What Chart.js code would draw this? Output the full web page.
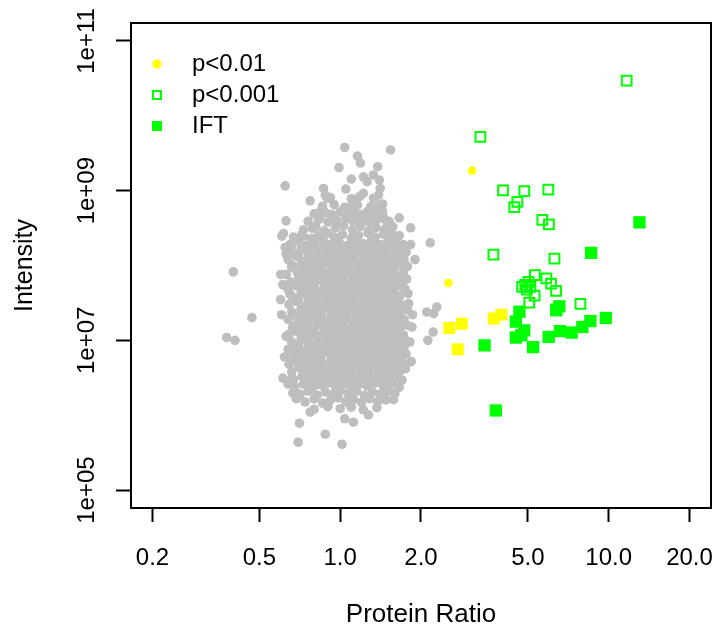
<!DOCTYPE html>
<html><head><meta charset="utf-8">
<script src="https://cdn.jsdelivr.net/npm/chart.js@4.4.1/dist/chart.umd.min.js"></script>
<style>html,body{margin:0;padding:0;background:#fff;}#wrap{width:716px;height:630px;}</style>
</head><body><div id="wrap"><canvas id="c" width="716" height="630"></canvas></div>
<script>
const xTickValues = [0.2, 0.5, 1, 2, 5, 10, 20];
const xTickLabels = ["0.2", "0.5", "1.0", "2.0", "5.0", "10.0", "20.0"];
const yTickValues = [1e5, 1e7, 1e9, 1e11];
const yTickLabels = ["1e+05", "1e+07", "1e+09", "1e+11"];
const legendLabels = ["p<0.01", "p<0.001", "IFT"];
const xTitle = "Protein Ratio";
const yTitle = "Intensity";

// [protein ratio, intensity]
const grayPoints = [
[1.04,3.78e9],[1.54,3.5e9],[1.16,2.9e9],[1.19,2.34e9],[0.99,2.03e9],[1.38,2.09e9],[0.624,1.16e9],[1.10,1.43e9],
[1.22,1.53e9],[1.26,1.32e9],[1.33,1.62e9],[1.40,1.39e9],[1.41,1.07e9],[1.39,8.73e8],[0.867,1.07e9],[0.88,8.73e8],
[0.897,7.89e8],[1.05,1.05e9],[1.22,9.2e8],[0.773,7.32e8],[0.847,5.38e8],[1.44,6.62e8],[1.43,5.5e8],[1.09,6.09e8],
[1.12,6.41e8],[1.06,5.22e8],[1.19,4.71e8],[1.26,5.22e8],[1.35,5.22e8],[0.629,3.95e8],[1.66,4.34e8],[1.83,3.19e8],
[2.165,2.01e8],[1.50,3.46e8],[0.615,2.68e8],[0.606,2.47e8],[0.788,3.13e8],[0.730,2.47e8],[0.661,1.91e8],[0.624,1.74e8],
[0.629,1.42e8],[0.661,1.01e8],[0.601,7.58e7],[0.612,5.57e7],[1.60,2.41e8],[1.56,2.68e8],[1.60,1.45e8],[1.63,1.18e8],
[1.70,6.36e7],[0.40,8.21e7],[0.469,2.01e7],[0.378,1.09e7],[0.406,1.0e7],[0.629,1.13e7],[0.67,7.35e6],[0.612,3.13e6],
[0.661,3.13e6],[0.666,1.97e6],[0.686,1.66e6],[0.773,1.1e6],[0.705,7.81e5],[0.697,4.35e5],[0.88,5.57e5],[1.016,4.09e5],
[1.04,8.95e5],[1.12,8.06e5],[1.275,1.01e6],[1.37,1.26e6],[1.58,1.61e6],[1.82,9.5e6],[1.80,3.1e7],[1.75,4.18e6],
[1.72,6.3e6],[2.10,2.39e7],[2.29,2.79e7],[2.23,2.28e7],[2.22,1.29e7],[2.12,1.0e7],[1.70,5.74e7],[0.68,1.59e7],
[0.651,4.13e7],[0.615,5.45e7],[0.84,4.4e8],[0.95,4.1e8],[1.31,4.5e8],[1.46,4.2e8],
[1.86,2.2e7],[1.84,5.2e6],[1.85,1.5e7],[1.83,1.9e8],[0.60,3.5e7],[0.605,2.2e7],[0.62,6.0e6],[0.64,2.6e6],[1.90,1.2e8],
[0.92,8.1e8],[1.10,7.8e8],[1.18,8.3e8],[1.33,7.9e8],
[0.86,6.2e8],[0.95,6.5e8],[1.04,6.0e8],[1.16,6.4e8],[1.30,6.1e8],[1.40,6.4e8],
[0.80,4.9e8],[0.88,5.1e8],[0.93,4.8e8],[1.00,5.2e8],[1.07,4.9e8],[1.13,5.1e8],[1.22,4.8e8],[1.30,5.2e8],[1.37,4.9e8],[1.44,5.1e8],
[0.76,3.9e8],[0.83,4.1e8],[0.90,3.8e8],[0.97,4.0e8],[1.05,4.2e8],[1.12,3.9e8],[1.20,4.1e8],[1.28,3.8e8],[1.36,4.0e8],[1.52,3.9e8],
[0.73,3.0e8],[0.81,3.3e8],[0.87,2.9e8],[0.96,3.2e8],[1.03,3.4e8],[1.11,3.0e8],[1.19,3.3e8],[1.28,2.9e8],[1.36,3.2e8],[1.46,3.0e8],[1.57,3.3e8],
[0.67,2.4e8],[0.72,2.6e8],[0.78,2.3e8],[0.83,2.5e8],[0.90,2.7e8],[0.95,2.4e8],[1.02,2.6e8],[1.10,2.3e8],[1.17,2.5e8],[1.27,2.7e8],[1.35,2.4e8],[1.45,2.6e8],[1.54,2.3e8],[1.66,2.5e8],
[0.65,1.9e8],[0.70,2.1e8],[0.745,1.85e8],[0.80,2.0e8],[0.865,2.15e8],[0.92,1.9e8],[0.99,2.05e8],[1.065,1.85e8],[1.14,2.1e8],[1.22,1.95e8],[1.31,2.15e8],[1.41,1.9e8],[1.50,2.0e8],[1.61,2.1e8],[1.72,1.9e8],
[0.665,1.5e8],[0.715,1.65e8],[0.77,1.45e8],[0.83,1.6e8],[0.895,1.7e8],[0.955,1.5e8],[1.025,1.62e8],[1.10,1.48e8],[1.18,1.66e8],[1.26,1.52e8],[1.355,1.68e8],[1.45,1.55e8],[1.56,1.45e8],[1.67,1.62e8],[1.76,1.5e8],
[0.64,1.2e8],[0.69,1.32e8],[0.745,1.16e8],[0.80,1.28e8],[0.86,1.2e8],[0.925,1.34e8],[0.99,1.22e8],[1.06,1.3e8],[1.14,1.16e8],[1.225,1.28e8],[1.31,1.2e8],[1.40,1.34e8],[1.50,1.22e8],[1.61,1.3e8],[1.73,1.18e8],
[0.66,0.95e8],[0.715,1.05e8],[0.77,0.92e8],[0.83,1.02e8],[0.89,1.07e8],[0.955,0.94e8],[1.025,1.0e8],[1.10,1.06e8],[1.18,0.93e8],[1.26,1.03e8],[1.355,0.96e8],[1.45,1.06e8],[1.555,0.94e8],[1.67,1.02e8],[1.78,0.97e8],
[0.63,7.6e7],[0.69,8.3e7],[0.74,7.3e7],[0.80,8.0e7],[0.86,7.5e7],[0.92,8.4e7],[0.99,7.7e7],[1.06,8.1e7],[1.14,7.4e7],[1.22,8.3e7],[1.31,7.6e7],[1.40,8.5e7],[1.50,7.8e7],[1.61,7.4e7],[1.72,8.1e7],
[0.655,6.0e7],[0.715,6.6e7],[0.77,5.9e7],[0.83,6.4e7],[0.89,6.8e7],[0.955,6.0e7],[1.025,6.5e7],[1.10,5.8e7],[1.18,6.6e7],[1.26,6.1e7],[1.355,6.7e7],[1.45,6.0e7],[1.555,6.5e7],[1.67,6.1e7],[1.77,6.6e7],
[0.64,4.8e7],[0.69,5.3e7],[0.745,4.6e7],[0.80,5.1e7],[0.86,4.7e7],[0.925,5.3e7],[0.99,4.9e7],[1.06,5.2e7],[1.14,4.7e7],[1.22,5.3e7],[1.31,4.8e7],[1.40,5.2e7],[1.50,4.7e7],[1.61,5.1e7],[1.74,4.9e7],
[0.665,3.8e7],[0.715,4.2e7],[0.77,3.7e7],[0.83,4.1e7],[0.89,4.3e7],[0.955,3.8e7],[1.025,4.1e7],[1.10,3.7e7],[1.18,4.2e7],[1.26,3.9e7],[1.355,4.3e7],[1.45,3.8e7],[1.555,4.1e7],[1.67,3.9e7],[1.79,4.2e7],
[0.645,3.0e7],[0.69,3.3e7],[0.745,2.9e7],[0.80,3.2e7],[0.86,3.0e7],[0.925,3.4e7],[0.99,3.1e7],[1.06,3.3e7],[1.14,2.9e7],[1.22,3.2e7],[1.31,3.0e7],[1.40,3.4e7],[1.50,3.0e7],[1.61,3.3e7],[1.72,2.95e7],
[0.66,2.4e7],[0.715,2.6e7],[0.77,2.3e7],[0.83,2.55e7],[0.89,2.7e7],[0.955,2.4e7],[1.025,2.6e7],[1.10,2.35e7],[1.18,2.6e7],[1.26,2.45e7],[1.355,2.7e7],[1.45,2.4e7],[1.555,2.6e7],[1.67,2.35e7],[1.78,2.55e7],
[0.64,1.9e7],[0.69,2.1e7],[0.745,1.85e7],[0.80,2.05e7],[0.86,1.9e7],[0.925,2.15e7],[0.99,1.95e7],[1.06,2.1e7],[1.14,1.85e7],[1.22,2.05e7],[1.31,1.9e7],[1.40,2.15e7],[1.50,1.95e7],[1.61,2.1e7],[1.73,1.9e7],
[0.665,1.5e7],[0.715,1.65e7],[0.77,1.45e7],[0.83,1.6e7],[0.89,1.7e7],[0.955,1.5e7],[1.025,1.65e7],[1.10,1.45e7],[1.18,1.62e7],[1.26,1.52e7],[1.355,1.7e7],[1.45,1.5e7],[1.555,1.64e7],[1.67,1.48e7],[1.77,1.6e7],
[0.645,1.2e7],[0.69,1.32e7],[0.745,1.16e7],[0.80,1.28e7],[0.86,1.2e7],[0.925,1.34e7],[0.99,1.22e7],[1.06,1.3e7],[1.14,1.16e7],[1.22,1.28e7],[1.31,1.2e7],[1.40,1.34e7],[1.50,1.22e7],[1.61,1.3e7],[1.72,1.18e7],
[0.66,0.95e7],[0.715,1.05e7],[0.77,0.92e7],[0.83,1.02e7],[0.89,1.07e7],[0.955,0.94e7],[1.025,1.0e7],[1.10,1.06e7],[1.18,0.93e7],[1.26,1.03e7],[1.355,0.96e7],[1.45,1.06e7],[1.555,0.94e7],[1.67,1.02e7],[1.78,0.97e7],
[0.64,7.6e6],[0.69,8.3e6],[0.745,7.3e6],[0.80,8.0e6],[0.86,7.5e6],[0.92,8.4e6],[0.99,7.7e6],[1.06,8.1e6],[1.14,7.4e6],[1.22,8.3e6],[1.31,7.6e6],[1.40,8.5e6],[1.50,7.8e6],[1.61,7.4e6],[1.73,8.1e6],
[0.665,6.0e6],[0.715,6.6e6],[0.77,5.9e6],[0.83,6.4e6],[0.89,6.8e6],[0.955,6.0e6],[1.025,6.5e6],[1.10,5.8e6],[1.18,6.6e6],[1.26,6.1e6],[1.355,6.7e6],[1.45,6.0e6],[1.555,6.5e6],[1.67,6.1e6],[1.76,6.6e6],
[0.645,4.8e6],[0.69,5.3e6],[0.745,4.6e6],[0.80,5.1e6],[0.86,4.7e6],[0.925,5.3e6],[0.99,4.9e6],[1.06,5.2e6],[1.14,4.7e6],[1.22,5.3e6],[1.31,4.8e6],[1.40,5.2e6],[1.50,4.7e6],[1.61,5.1e6],[1.72,4.9e6],
[0.66,3.8e6],[0.715,4.2e6],[0.77,3.7e6],[0.83,4.1e6],[0.89,4.3e6],[0.955,3.8e6],[1.025,4.1e6],[1.10,3.7e6],[1.18,4.2e6],[1.26,3.9e6],[1.355,4.3e6],[1.45,3.8e6],[1.555,4.1e6],[1.67,3.9e6],[1.75,4.2e6],
[0.67,3.0e6],[0.72,3.3e6],[0.77,2.9e6],[0.82,3.2e6],[0.87,3.0e6],[0.93,3.4e6],[0.99,3.1e6],[1.06,3.3e6],[1.14,2.9e6],[1.22,3.2e6],[1.31,3.0e6],[1.40,3.4e6],[1.50,3.0e6],[1.61,3.3e6],[1.70,2.95e6],
[0.68,2.4e6],[0.73,2.6e6],[0.79,2.3e6],[0.845,2.55e6],[0.90,2.7e6],[0.96,2.4e6],[1.03,2.6e6],[1.10,2.35e6],[1.18,2.6e6],[1.26,2.45e6],[1.355,2.7e6],[1.45,2.4e6],[1.555,2.6e6],[1.66,2.35e6],
[0.71,1.9e6],[0.76,2.1e6],[0.82,1.85e6],[0.88,2.05e6],[0.94,1.9e6],[1.0,2.15e6],[1.07,1.95e6],[1.15,2.1e6],[1.23,1.85e6],[1.32,2.05e6],[1.41,1.9e6],[1.51,2.1e6],[1.60,1.95e6],
[0.74,1.5e6],[0.80,1.65e6],[0.86,1.45e6],[0.92,1.6e6],[0.985,1.7e6],[1.05,1.5e6],[1.12,1.62e6],[1.20,1.48e6],[1.29,1.66e6],[1.38,1.52e6],[1.48,1.6e6],
[0.80,1.2e6],[0.90,1.3e6],[1.0,1.22e6],[1.10,1.28e6],[1.22,1.18e6],
[0.72,1.75e8],[0.78,1.85e8],[0.85,1.7e8],[0.93,1.8e8],[1.0,1.9e8],[1.08,1.72e8],[1.16,1.84e8],[1.25,1.76e8],[1.35,1.88e8],[1.46,1.7e8],[1.58,1.8e8],
[0.70,1.38e8],[0.76,1.46e8],[0.82,1.36e8],[0.89,1.44e8],[0.96,1.4e8],[1.04,1.48e8],[1.12,1.36e8],[1.21,1.44e8],[1.30,1.38e8],[1.41,1.46e8],[1.52,1.36e8],[1.64,1.43e8],
[0.74,1.1e8],[0.80,1.16e8],[0.875,1.08e8],[0.945,1.14e8],[1.02,1.1e8],[1.10,1.17e8],[1.19,1.08e8],[1.28,1.15e8],[1.39,1.1e8],[1.50,1.16e8],[1.62,1.09e8],
[0.72,8.7e7],[0.78,9.2e7],[0.85,8.6e7],[0.93,9.1e7],[1.0,8.8e7],[1.08,9.3e7],[1.16,8.6e7],[1.25,9.1e7],[1.35,8.7e7],[1.46,9.2e7],[1.58,8.6e7],
[0.70,7.0e7],[0.76,7.3e7],[0.82,6.9e7],[0.89,7.2e7],[0.96,7.0e7],[1.04,7.4e7],[1.12,6.9e7],[1.21,7.2e7],[1.30,7.0e7],[1.41,7.3e7],[1.52,6.9e7],[1.64,7.2e7],
[0.74,5.5e7],[0.80,5.8e7],[0.875,5.4e7],[0.945,5.7e7],[1.02,5.5e7],[1.10,5.8e7],[1.19,5.4e7],[1.28,5.7e7],[1.39,5.5e7],[1.50,5.8e7],[1.62,5.4e7],
[0.72,4.4e7],[0.78,4.6e7],[0.85,4.3e7],[0.93,4.6e7],[1.0,4.4e7],[1.08,4.7e7],[1.16,4.3e7],[1.25,4.6e7],[1.35,4.4e7],[1.46,4.6e7],[1.58,4.3e7],
[0.70,3.5e7],[0.76,3.65e7],[0.82,3.45e7],[0.89,3.6e7],[0.96,3.5e7],[1.04,3.7e7],[1.12,3.45e7],[1.21,3.6e7],[1.30,3.5e7],[1.41,3.65e7],[1.52,3.45e7],[1.64,3.6e7],
[0.74,2.75e7],[0.80,2.9e7],[0.875,2.7e7],[0.945,2.85e7],[1.02,2.75e7],[1.10,2.9e7],[1.19,2.7e7],[1.28,2.85e7],[1.39,2.75e7],[1.50,2.9e7],[1.62,2.7e7],
[0.72,2.2e7],[0.78,2.3e7],[0.85,2.15e7],[0.93,2.3e7],[1.0,2.2e7],[1.08,2.32e7],[1.16,2.15e7],[1.25,2.28e7],[1.35,2.2e7],[1.46,2.3e7],[1.58,2.16e7],
[0.70,1.75e7],[0.76,1.83e7],[0.82,1.72e7],[0.89,1.8e7],[0.96,1.75e7],[1.04,1.85e7],[1.12,1.72e7],[1.21,1.8e7],[1.30,1.75e7],[1.41,1.83e7],[1.52,1.72e7],[1.64,1.8e7],
[0.74,1.38e7],[0.80,1.46e7],[0.875,1.36e7],[0.945,1.44e7],[1.02,1.4e7],[1.10,1.47e7],[1.19,1.36e7],[1.28,1.44e7],[1.39,1.38e7],[1.50,1.46e7],[1.62,1.37e7],
[0.72,1.1e7],[0.78,1.16e7],[0.85,1.08e7],[0.93,1.15e7],[1.0,1.1e7],[1.08,1.17e7],[1.16,1.08e7],[1.25,1.15e7],[1.35,1.1e7],[1.46,1.16e7],[1.58,1.08e7],
[0.70,8.7e6],[0.76,9.2e6],[0.82,8.6e6],[0.89,9.1e6],[0.96,8.8e6],[1.04,9.3e6],[1.12,8.6e6],[1.21,9.1e6],[1.30,8.7e6],[1.41,9.2e6],[1.52,8.6e6],[1.64,9.0e6],
[0.74,7.0e6],[0.80,7.3e6],[0.875,6.9e6],[0.945,7.2e6],[1.02,7.0e6],[1.10,7.4e6],[1.19,6.9e6],[1.28,7.2e6],[1.39,7.0e6],[1.50,7.3e6],[1.62,6.9e6],
[0.72,5.5e6],[0.78,5.8e6],[0.85,5.4e6],[0.93,5.7e6],[1.0,5.5e6],[1.08,5.8e6],[1.16,5.4e6],[1.25,5.7e6],[1.35,5.5e6],[1.46,5.8e6],[1.58,5.4e6],
[0.70,4.4e6],[0.76,4.6e6],[0.82,4.3e6],[0.89,4.6e6],[0.96,4.4e6],[1.04,4.7e6],[1.12,4.3e6],[1.21,4.6e6],[1.30,4.4e6],[1.41,4.6e6],[1.52,4.3e6],[1.64,4.5e6],
[0.74,3.5e6],[0.80,3.65e6],[0.875,3.45e6],[0.945,3.6e6],[1.02,3.5e6],[1.10,3.7e6],[1.19,3.45e6],[1.28,3.6e6],[1.39,3.5e6],[1.50,3.65e6],[1.62,3.45e6],
[0.75,2.75e6],[0.81,2.9e6],[0.87,2.7e6],[0.93,2.85e6],[1.0,2.75e6],[1.08,2.9e6],[1.16,2.7e6],[1.25,2.85e6],[1.35,2.75e6],[1.46,2.9e6],[1.57,2.7e6]
];
const yellowCirclePoints = [[3.10,1.85e9],[2.53,5.85e7]];
const yellowSquarePoints = [[2.55,1.46e7],[2.84,1.67e7],[2.74,7.58e6],[3.73,1.96e7],[3.98,2.21e7]];
const hollowSquarePoints = [
[11.67,2.96e10],[3.33,5.22e9],[4.04,1.01e9],[4.85,9.88e8],[5.96,1.03e9],[4.57,7.1e8],[4.45,6.03e8],[5.66,4.08e8],
[5.99,3.54e8],[3.72,1.395e8],[6.28,1.233e8],[5.31,7.46e7],[5.86,6.72e7],[6.10,5.74e7],[6.37,4.57e7],[4.76,5.2e7],
[4.89,5.5e7],[5.03,6.03e7],[5.11,5.17e7],[4.96,4.77e7],[5.30,3.97e7],[5.06,3.18e7],[7.85,3.08e7],[6.38,2.6e7]
];
const iftPoints = [
[13.02,3.77e8],[8.60,1.475e8],[6.55,2.85e7],[6.38,2.52e7],[4.65,2.41e7],[4.51,1.78e7],[4.85,1.36e7],[4.51,1.09e7],
[4.73,1.17e7],[5.23,8.13e6],[3.45,8.57e6],[5.98,1.11e7],[6.59,1.33e7],[7.28,1.27e7],[7.98,1.51e7],[8.55,1.81e7],
[9.76,1.99e7],[3.80,1.156e6]
];

const toXY = arr => arr.map(p => ({x: p[0], y: p[1]}));
const FONT = '"Liberation Sans", Arial, sans-serif';
const GRAY = '#BEBEBE', YELLOW = '#FFFF00', GREEN = '#00FF00';

function makeSym(kind) {
  const c = document.createElement('canvas');
  c.width = 10; c.height = 10;
  const g = c.getContext('2d');
  if (kind === 'circle') { g.fillStyle = YELLOW; g.beginPath(); g.arc(5, 5, 4.6, 0, Math.PI * 2); g.fill(); }
  else if (kind === 'hollow') { g.strokeStyle = GREEN; g.lineWidth = 2; g.strokeRect(1, 1, 8, 8); }
  else { g.fillStyle = GREEN; g.fillRect(0, 0, 10, 10); }
  return c;
}
const symbols = [makeSym('circle'), makeSym('hollow'), makeSym('filled')];

const framePlugin = {
  id: 'frame',
  afterLayout(chart) {
    const lg = chart.legend;
    if (lg) { lg.left = 127; lg.top = 45; }
  },
  afterDraw(chart) {
    const {ctx, chartArea: a, scales: {y}} = chart;
    ctx.save();
    ctx.strokeStyle = '#000'; ctx.lineWidth = 2;
    ctx.strokeRect(a.left, a.top, a.right - a.left, a.bottom - a.top);
    ctx.fillStyle = '#000';
    ctx.font = '24px ' + FONT;
    ctx.textAlign = 'center'; ctx.textBaseline = 'middle';
    yTickValues.forEach((v, i) => {
      const py = y.getPixelForValue(v);
      ctx.save(); ctx.translate(87, py); ctx.rotate(-Math.PI / 2);
      ctx.fillText(yTickLabels[i], 0, 0);
      ctx.restore();
    });
    ctx.restore();
  }
};

new Chart(document.getElementById('c'), {
  type: 'scatter',
  data: {
    datasets: [
      {label: 'other', data: toXY(grayPoints), pointStyle: 'circle', pointRadius: 4.8, pointBackgroundColor: GRAY, pointBorderWidth: 0, order: 5},
      {label: legendLabels[0], data: toXY(yellowCirclePoints), pointStyle: 'circle', pointRadius: 4.3, pointBackgroundColor: YELLOW, pointBorderWidth: 0, order: 4},
      {label: 'p<0.01 IFT', data: toXY(yellowSquarePoints), pointStyle: 'rect', pointRadius: 8.5, pointBackgroundColor: YELLOW, pointBorderWidth: 0, order: 3},
      {label: legendLabels[1], data: toXY(hollowSquarePoints), pointStyle: 'rect', pointRadius: 6.9, pointBackgroundColor: 'rgba(0,0,0,0)', pointBorderColor: GREEN, pointBorderWidth: 2, order: 2},
      {label: legendLabels[2], data: toXY(iftPoints), pointStyle: 'rect', pointRadius: 8.7, pointBackgroundColor: GREEN, pointBorderWidth: 0, order: 1}
    ]
  },
  options: {
    responsive: false,
    animation: false,
    devicePixelRatio: 1,
    events: [],
    layout: {autoPadding: false, padding: {top: 23, right: 5, bottom: 0, left: 0}},
    scales: {
      x: {
        type: 'logarithmic', position: 'bottom', min: 0.16636, max: 24.046,
        afterBuildTicks: s => { s.ticks = xTickValues.map(v => ({value: v})); },
        afterFit: s => { s.height = 122; s.paddingLeft = 0; s.paddingRight = 0; s.paddingTop = 0; s.paddingBottom = 0; },
        ticks: {callback: (v, i) => xTickLabels[i], autoSkip: false, maxRotation: 0, minRotation: 0, padding: 22, color: '#000', font: {family: FONT, size: 24}},
        grid: {display: true, drawOnChartArea: false, drawTicks: true, tickLength: 14, tickWidth: 2, tickColor: '#000'},
        border: {display: false},
        title: {display: true, text: xTitle, color: '#000', font: {family: FONT, size: 26}, padding: {top: 0, bottom: 0}}
      },
      y: {
        type: 'logarithmic', position: 'left', min: 5.7544e4, max: 1.7378e11,
        afterBuildTicks: s => { s.ticks = yTickValues.map(v => ({value: v})); },
        afterFit: s => { s.width = 131; s.paddingTop = 0; s.paddingBottom = 0; s.paddingLeft = 0; s.paddingRight = 0; },
        ticks: {display: false},
        grid: {display: true, drawOnChartArea: false, drawTicks: true, tickLength: 15, tickWidth: 2, tickColor: '#000'},
        border: {display: false},
        title: {display: true, text: yTitle, color: '#000', font: {family: FONT, size: 25}, padding: {top: 10, bottom: 0}}
      }
    },
    plugins: {
      tooltip: {enabled: false},
      legend: {
        position: 'chartArea', align: 'start',
        labels: {
          usePointStyle: true, pointStyleWidth: 46, padding: 7, color: '#000',
          font: {family: FONT, size: 24},
          generateLabels: () => legendLabels.map((t, i) => ({
            text: t, pointStyle: symbols[i], fillStyle: i === 0 ? YELLOW : GREEN,
            strokeStyle: i === 0 ? YELLOW : GREEN, lineWidth: 0, hidden: false, datasetIndex: i + 1, fontColor: '#000'
          }))
        }
      }
    }
  },
  plugins: [framePlugin]
});
</script></body></html>
